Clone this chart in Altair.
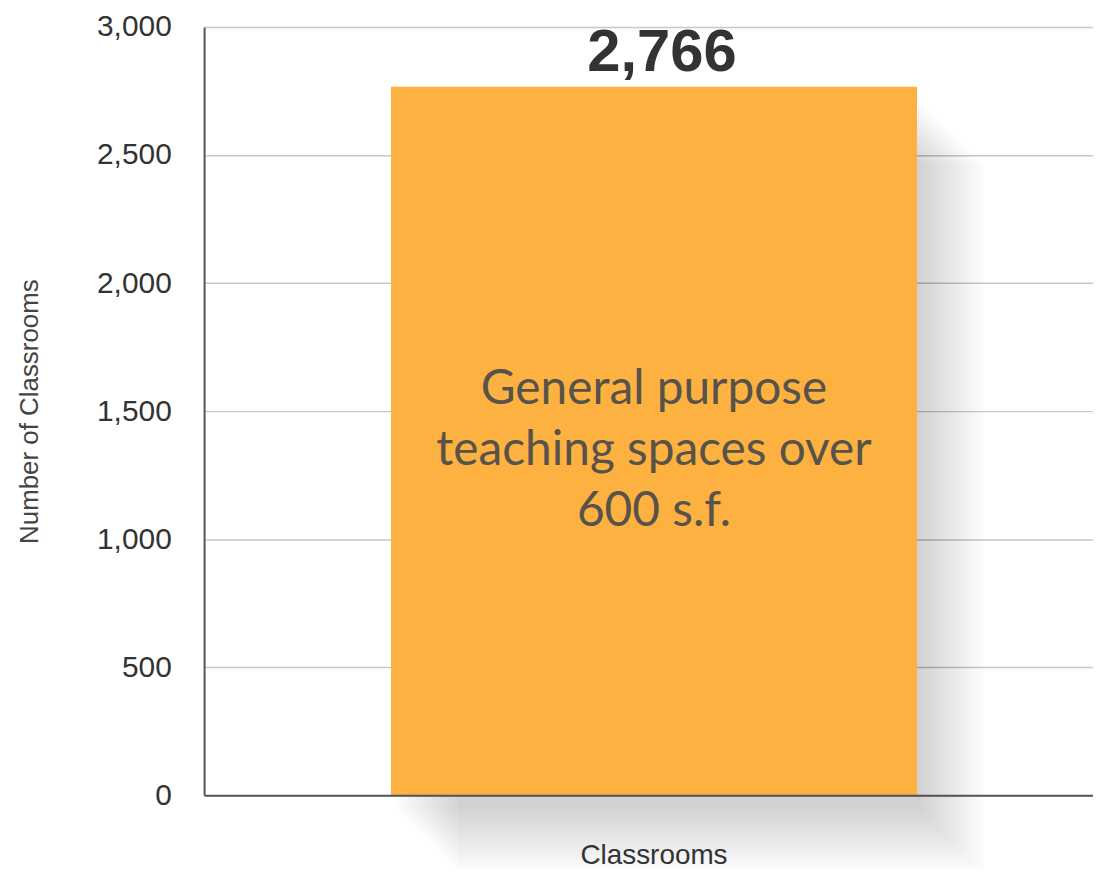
import altair as alt
import pandas as pd

# ---- data ----
categories = ["Classrooms"]
values = [2766]
value_labels = ["2,766"]
bar_notes = [["General purpose", "teaching spaces over", "600 s.f."]]
y_ticks = [0, 500, 1000, 1500, 2000, 2500, 3000]
y_domain = [0, 3000]

df = pd.DataFrame({
    "category": categories,
    "value": values,
    "label": value_labels,
    "note": bar_notes,
})

BAR_COLOR = "#FDB140"
TEXT_DARK = "#333333"

x_enc = alt.X(
    "category:N",
    scale=alt.Scale(paddingInner=0, paddingOuter=0.345, align=0.515),
    axis=alt.Axis(
        title=None, labelAngle=0, labelFont="Liberation Sans", labelFontSize=28,
        labelColor=TEXT_DARK, labelPadding=46, ticks=False, tickSize=0,
        domainColor="#555555", domainWidth=2, grid=False, zindex=1,
    ),
)
y_axis = alt.Axis(
    values=y_ticks, format=",.0f", title="Number of Classrooms",
    titleFont="Liberation Sans", titleFontSize=26, titleFontWeight="normal",
    titleColor="#444444", titlePadding=54,
    labelFont="Liberation Sans", labelFontSize=30, labelColor=TEXT_DARK,
    labelPadding=33, ticks=False, tickSize=0,
    domainColor="#555555", domainWidth=2,
    gridColor="#c8c8c8", gridWidth=1.5,
)
y_scale = alt.Scale(domain=y_domain, nice=False)
y_enc = alt.Y("value:Q", scale=y_scale, axis=y_axis)

base = alt.Chart(df)

# directional soft drop shadow: progressively shifted translucent copies
shadow_layers = []
for i in range(1, 16):
    shadow_layers.append(
        base.mark_bar(
            color="black", opacity=0.013,
            xOffset=4.5 * i, yOffset=10 + 4.5 * i, y2Offset=3.5 * i,
        ).encode(x=x_enc, y=y_enc)
    )

bar = base.mark_bar(color=BAR_COLOR).encode(x=x_enc, y=y_enc)

value_text = base.mark_text(
    baseline="alphabetic", dy=-16, dx=8, font="Liberation Sans",
    fontSize=60, fontWeight="bold", color=TEXT_DARK,
).encode(x=x_enc, y=y_enc, text="label:N")

note_text = base.mark_text(
    font="Lato", fontSize=48, fontWeight="normal", lineHeight=61,
    color="#58534a", baseline="middle", align="center", dy=305,
).encode(x=x_enc, y=y_enc, text="note")

chart = alt.layer(*shadow_layers, bar, value_text, note_text).properties(
    width=893,
    height=772,
    autosize=alt.AutoSizeParams(type="none"),
    padding={"left": 197, "top": 17, "right": 0, "bottom": 72},
    background="white",
).configure_view(stroke=None)

chart.save("out.html", embed_options={"renderer": "svg", "actions": False})
